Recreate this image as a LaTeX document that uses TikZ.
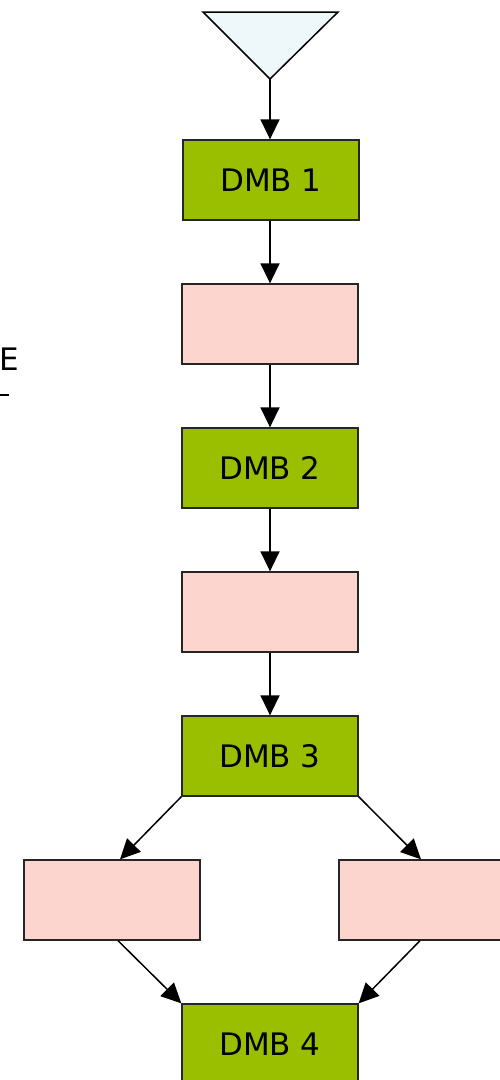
\documentclass[tikz,border=0pt]{standalone}
\usepackage{fontspec}
\setmainfont{DejaVu Sans}
\usetikzlibrary{arrows.meta}
\tikzset{>={Triangle[length=20pt,width=19pt]}}
\definecolor{dmbgreen}{RGB}{153,191,0}
\definecolor{stepred}{RGB}{252,213,206}
\definecolor{topblue}{RGB}{238,247,250}
\tikzset{
  box/.style={draw=black!85,line width=1.3pt,minimum width=176pt,minimum height=80pt,
    inner sep=0pt,font=\fontsize{31}{37}\selectfont},
  dmb/.style={box,fill=dmbgreen},
  pinkbox/.style={box,fill=stepred},
  flow/.style={->,line width=1.5pt}
}

\begin{document}
\begin{tikzpicture}[x=1pt,y=-1pt]
\begin{scope}
    \useasboundingbox (0,0) rectangle (500,1080);
    %entry triangle
    \draw[fill=topblue,line width=1.5pt,line join=miter] (203,12) -- (338,12) -- (270,79) -- cycle;
    \coordinate (tip) at (270,79);
    %boxes
    \node[dmb] (d1) at (271,180) {DMB 1};
    \node[pinkbox] (p1) at (270,324) {};
    \node[dmb] (d2) at (270,468) {DMB 2};
    \node[pinkbox] (p2) at (270,612) {};
    \node[dmb] (d3) at (270,756) {DMB 3};
    \node[pinkbox] (pl) at (112,900) {};
    \node[pinkbox] (pr) at (427,900) {};
    \node[dmb] (d4) at (270,1044) {DMB 4};
    %left text
    \node[anchor=west,inner sep=0pt,font=\fontsize{31}{37}\selectfont] (e) at (-1,359) {E};
    \draw[line width=1.2pt] (0,395) -- (9,395);
    %arrows
    \draw[flow] (tip) -- (tip |- d1.north);
    \draw[flow] (p1.north |- d1.south) -- (p1);
    \draw[flow] (p1) -- (d2);
    \draw[flow] (d2) -- (p2);
    \draw[flow] (p2) -- (d3);
    \draw[flow] (d3.south west) -- ([xshift=8pt]pl.north);
    \draw[flow] (d3.south east) -- ([xshift=-6pt]pr.north);
    \draw[flow] ([xshift=6pt]pl.south) -- (d4.north west);
    \draw[flow] ([xshift=-7pt]pr.south) -- (d4.north east);
\end{scope}
\end{tikzpicture}
\end{document}
